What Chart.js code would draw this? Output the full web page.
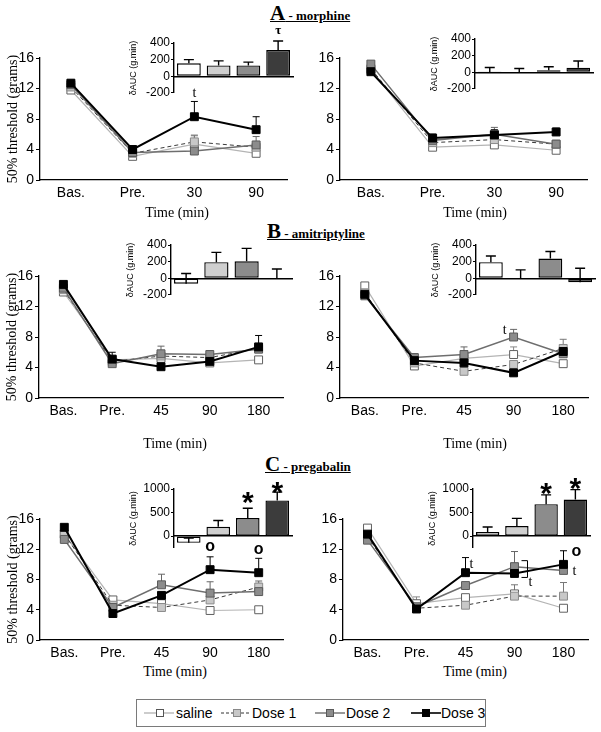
<!DOCTYPE html>
<html>
<head>
<meta charset="utf-8">
<script src="https://cdn.jsdelivr.net/npm/chart.js@4.4.1/dist/chart.umd.min.js"></script>
<style>
  body { margin:0; width:601px; height:732px; background:#fff; position:relative; overflow:hidden; }
  canvas { position:absolute; }
  .panel { position:absolute; font-family:"Liberation Serif",serif; font-weight:bold; text-decoration:underline; white-space:nowrap; line-height:20px; }
  .panel .big { font-size:21px; }
  .panel .small { font-size:13px; }
  .xt { position:absolute; font-family:"Liberation Serif",serif; font-size:14px; line-height:16px; transform:translateX(-50%); white-space:nowrap; }
  #legendBox { position:absolute; left:136px; top:699px; width:348px; height:26px; border:1.5px solid #7a7a7a; }
  .lg { position:absolute; font-family:"Liberation Sans",Arial,sans-serif; font-size:14px; line-height:16px; top:705px; white-space:nowrap; }
  .lgs { position:absolute; top:708px; }
</style>
</head>
<body>
<div class="panel" style="left:270px;top:3px"><span class="big">A</span><span class="small"> - morphine</span></div>
<div class="panel" style="left:267px;top:221px"><span class="big">B</span><span class="small"> - amitriptyline</span></div>
<div class="panel" style="left:265px;top:454px"><span class="big">C</span><span class="small"> - pregabalin</span></div>

<canvas id="aL"></canvas><canvas id="aR"></canvas>
<canvas id="bL"></canvas><canvas id="bR"></canvas>
<canvas id="cL"></canvas><canvas id="cR"></canvas>
<canvas id="iaL"></canvas><canvas id="iaR"></canvas>
<canvas id="ibL"></canvas><canvas id="ibR"></canvas>
<canvas id="icL"></canvas><canvas id="icR"></canvas>

<div class="xt" style="left:177px;top:205px">Time (min)</div>
<div class="xt" style="left:475px;top:205px">Time (min)</div>
<div class="xt" style="left:175px;top:436px">Time (min)</div>
<div class="xt" style="left:475px;top:436px">Time (min)</div>
<div class="xt" style="left:175px;top:664px">Time (min)</div>
<div class="xt" style="left:475px;top:664px">Time (min)</div>

<div id="legendBox"></div>
<svg class="lgs" style="left:144px" width="30" height="10"><line x1="0" y1="5" x2="30" y2="5" stroke="#999" stroke-width="1"/><rect x="12.5" y="1.5" width="7" height="7" fill="#fff" stroke="#555"/></svg>
<span class="lg" style="left:176px">saline</span>
<svg class="lgs" style="left:221px" width="30" height="10"><line x1="0" y1="5" x2="30" y2="5" stroke="#333" stroke-width="1" stroke-dasharray="3,2"/><rect x="12.5" y="1.5" width="7" height="7" fill="#c8c8c8" stroke="#888"/></svg>
<span class="lg" style="left:252px">Dose 1</span>
<svg class="lgs" style="left:315px" width="30" height="10"><line x1="0" y1="5" x2="30" y2="5" stroke="#555" stroke-width="1.2"/><rect x="11.5" y="1.5" width="7" height="7" fill="#8c8c8c" stroke="#5a5a5a"/></svg>
<span class="lg" style="left:346px">Dose 2</span>
<svg class="lgs" style="left:411px" width="30" height="10"><line x1="0" y1="5" x2="30" y2="5" stroke="#000" stroke-width="1.6"/><rect x="11.5" y="1.5" width="7" height="7" fill="#000" stroke="#000"/></svg>
<span class="lg" style="left:441px">Dose 3</span>

<script>
// ---- data ----
var seriesNames = ['saline', 'Dose 1', 'Dose 2', 'Dose 3'];
var timesA = ['Bas.', 'Pre.', '30', '90'];
var timesBC = ['Bas.', 'Pre.', '45', '90', '180'];

// A - morphine (left / right), 50% threshold in grams
var aLeftSaline = [11.8, 3.1, 4.7, 3.5];
var aLeftDose1  = [12.2, 3.5, 5.0, 4.3];
var aLeftDose2  = [12.5, 3.6, 3.8, 4.6];
var aLeftDose3  = [12.7, 4.0, 8.3, 6.6];
var aLeftErr = [[0.3, 0, 1.2, 0], [0, 0, 0.8, 0], [0, 0, 0, 1.1], [0.4, 0, 2.0, 1.7]];

var aRightSaline = [14.5, 4.3, 4.6, 3.9];
var aRightDose1  = [14.6, 4.9, 5.3, 4.7];
var aRightDose2  = [15.2, 5.2, 6.0, 4.7];
var aRightDose3  = [14.2, 5.5, 5.9, 6.3];
var aRightErr = [[0, 0, 0, 0], [0, 0, 0.4, 0.5], [0, 0.8, 0.9, 0.4], [0, 0.5, 0.7, 0.5]];

// B - amitriptyline
var bLeftSaline = [13.9, 5.0, 5.2, 4.6, 5.0];
var bLeftDose1  = [14.2, 4.8, 5.5, 5.3, 6.5];
var bLeftDose2  = [14.4, 4.5, 5.8, 5.7, 6.4];
var bLeftDose3  = [14.9, 5.1, 4.1, 4.8, 6.7];
var bLeftErr = [[0, 0, 0, 0, 0], [0, 0, 0, 0.4, 0], [0, 0, 1.0, 0.5, 0], [0, 0.9, 0, 0, 1.5]];

var bRightSaline = [14.7, 4.2, 5.2, 5.7, 4.5];
var bRightDose1  = [13.8, 4.6, 3.5, 4.4, 6.5];
var bRightDose2  = [13.4, 5.3, 5.7, 8.0, 5.8];
var bRightDose3  = [13.6, 4.9, 4.6, 3.3, 6.1];
var bRightErr = [[0, 0, 0, 1.0, 0], [0, 0, 0, 0, 1.2], [0, 0.5, 1.0, 1.0, 0], [0, 0, 0, 0, 0.4]];

// C - pregabalin
var cLeftSaline = [14.0, 5.3, 4.8, 3.9, 4.0];
var cLeftDose1  = [14.0, 4.6, 4.3, 5.3, 7.0];
var cLeftDose2  = [13.3, 4.3, 7.3, 6.2, 6.4];
var cLeftDose3  = [14.9, 3.5, 5.9, 9.3, 8.9];
var cLeftErr = [[0, 0.4, 0, 0, 0], [0, 0, 0, 1.3, 0.5], [0, 0, 1.4, 1.5, 1.4], [0.3, 0, 0, 1.7, 1.9]];

var cRightSaline = [14.8, 4.8, 5.6, 6.1, 4.2];
var cRightDose1  = [13.7, 4.2, 4.6, 5.8, 5.8];
var cRightDose2  = [13.2, 4.4, 7.2, 9.7, 9.2];
var cRightDose3  = [14.0, 4.1, 8.9, 8.8, 10.0];
var cRightErr = [[0, 0.9, 0, 0, 0], [0, 0, 0, 1.5, 1.8], [0, 0, 0, 2.0, 0], [0, 0, 2.0, 0, 1.8]];

// insets: delta AUC (g.min)
var aLeftAuc = [155, 130, 130, 315];   var aLeftAucErr = [45, 55, 40, 110];
var aRightAuc = [2, -5, 25, 55];       var aRightAucErr = [55, 50, 40, 80];
var bLeftAuc = [-67, 193, 204, 0];     var bLeftAucErr = [123, 118, 155, 111];
var bRightAuc = [193, 0, 237, -48];    var bRightAucErr = [74, 100, 85, 167];
var cLeftAuc = [-145, 197, 382, 757];  var cLeftAucErr = [100, 132, 210, 177];
var cRightAuc = [86, 211, 678, 776];   var cRightAucErr = [105, 164, 197, 211];

// ---- styles ----
var lineStyles = [
  { borderColor: '#b4b4b4', borderWidth: 1.2, pointBackgroundColor: '#fff', pointBorderColor: '#606060' },
  { borderColor: '#3a3a3a', borderWidth: 1, borderDash: [4, 3], pointBackgroundColor: '#c8c8c8', pointBorderColor: '#8a8a8a' },
  { borderColor: '#6e6e6e', borderWidth: 1.5, pointBackgroundColor: '#8c8c8c', pointBorderColor: '#5a5a5a' },
  { borderColor: '#000', borderWidth: 2, pointBackgroundColor: '#000', pointBorderColor: '#000' }
];
var errColors = ['#888', '#777', '#666', '#000'];
var barColors = ['#ffffff', '#cfcfcf', '#8c8c8c', '#3c3c3c'];
var serif = '"Liberation Serif", serif';
var sans = '"Liberation Sans", Arial, sans-serif';

Chart.defaults.font.family = sans;
Chart.defaults.color = '#000';
Chart.defaults.animation = false;

// error bars (upper only) and small significance marks
var marks = {
  id: 'marks',
  drawErr: function (chart, o) {
    var ctx = chart.ctx, ys = chart.scales.y;
    chart.data.datasets.forEach(function (ds, di) {
      var err = o.errs[di];
      if (!err) return;
      chart.getDatasetMeta(di).data.forEach(function (el, i) {
        if (!err[i]) return;
        var y0 = ys.getPixelForValue(ds.data[i]), y1 = ys.getPixelForValue(ds.data[i] + err[i]);
        ctx.save();
        ctx.strokeStyle = o.colors[di];
        ctx.lineWidth = o.width;
        ctx.beginPath();
        ctx.moveTo(el.x, y0); ctx.lineTo(el.x, y1);
        ctx.moveTo(el.x - o.cap, y1); ctx.lineTo(el.x + o.cap, y1);
        ctx.stroke();
        ctx.restore();
      });
    });
  },
  beforeDatasetsDraw: function (chart, args, o) { if (!o.over) this.drawErr(chart, o); },
  afterDatasetsDraw: function (chart, args, o) {
    if (o.over) this.drawErr(chart, o);
    var ctx = chart.ctx, ys = chart.scales.y;
    (o.notes || []).forEach(function (n) {
      var ds = chart.data.datasets[n.ds];
      var el = chart.getDatasetMeta(n.ds).data[n.i];
      var e = (o.errs[n.ds] && n.useErr !== false) ? o.errs[n.ds][n.i] : 0;
      var y = ys.getPixelForValue(ds.data[n.i] + e);
      ctx.save();
      ctx.fillStyle = '#000';
      ctx.strokeStyle = '#000';
      if (n.bracket) {
        var yb = ys.getPixelForValue(chart.data.datasets[n.to].data[n.i]);
        var ya = ys.getPixelForValue(ds.data[n.i]);
        var x0 = el.x + n.dx, x1 = x0 + 6;
        ctx.lineWidth = 1;
        ctx.beginPath();
        ctx.moveTo(x0, ya - 6); ctx.lineTo(x1, ya - 6); ctx.lineTo(x1, yb + 4); ctx.lineTo(x0, yb + 4);
        ctx.stroke();
        ctx.font = '14px ' + serif;
        ctx.textAlign = 'center'; ctx.textBaseline = 'middle';
        ctx.fillText('t', x1 + 3, yb + 9);
      } else {
        ctx.font = n.font;
        ctx.textAlign = 'center'; ctx.textBaseline = 'middle';
        ctx.fillText(n.text, el.x + (n.dx || 0), y + (n.dy || 0));
      }
      ctx.restore();
    });
  }
};

function place(id, x, y, w, h) {
  var c = document.getElementById(id);
  c.width = w; c.height = h;
  c.style.left = x + 'px'; c.style.top = y + 'px';
  return c;
}

function lineChart(id, box, labels, series, errs, notes, showTitle) {
  var padL = 42, padT = 12, padR = 8, xh = 24;
  var cv = place(id, box[0] - padL, box[1] - padT, box[2] - box[0] + padL + padR, box[3] - box[1] + padT + xh);
  new Chart(cv, {
    type: 'line',
    data: {
      labels: labels,
      datasets: series.map(function (d, k) {
        return Object.assign({
          label: seriesNames[k], data: d, order: 3 - k, pointStyle: 'rect',
          pointRadius: 5.6, pointBorderWidth: 1, tension: 0, clip: false, fill: false
        }, lineStyles[k]);
      })
    },
    options: {
      responsive: false,
      animation: false,
      layout: { padding: { top: padT, right: padR, left: 0, bottom: 0 }, autoPadding: false },
      plugins: {
        legend: { display: false }, tooltip: { enabled: false },
        marks: { errs: errs, notes: notes, over: false, cap: 3.5, colors: errColors, width: 1 }
      },
      scales: {
        x: {
          offset: true,
          grid: { display: false, drawTicks: false },
          border: { color: '#000', width: 1.3 },
          ticks: { font: { size: 14 }, padding: 5, color: '#000' },
          afterFit: function (s) { s.height = xh; }
        },
        y: {
          min: 0, max: 16,
          ticks: { stepSize: 4, font: { size: 14 }, padding: 2, color: '#000' },
          grid: { drawOnChartArea: false, tickLength: 4, color: '#000' },
          border: { color: '#000', width: 1.3 },
          title: { display: showTitle, text: '50% threshold (grams)', font: { family: serif, size: 14 }, padding: { top: 7, bottom: 0 }, color: '#000' },
          afterFit: function (s) { s.width = padL; }
        }
      }
    },
    plugins: [marks]
  });
}

function barChart(id, box, vals, errs, yMin, yMax, step, notes) {
  var padL = 46, padT = 24, padR = 4, padB = 4;
  var cv = place(id, box[0] - padL, box[1] - padT, box[2] - box[0] + padL + padR, box[3] - box[1] + padT + padB);
  new Chart(cv, {
    type: 'bar',
    data: {
      labels: seriesNames,
      datasets: [{
        data: vals, backgroundColor: barColors, borderColor: '#000', borderWidth: 1.4,
        borderSkipped: false, barPercentage: 0.8, categoryPercentage: 1
      }]
    },
    options: {
      responsive: false,
      animation: false,
      layout: { padding: { top: padT, right: padR, left: 0, bottom: padB }, autoPadding: false },
      plugins: {
        legend: { display: false }, tooltip: { enabled: false },
        marks: { errs: [errs], notes: notes, over: true, cap: 5, colors: ['#000'], width: 1.4 }
      },
      scales: {
        x: {
          position: { y: 0 },
          offset: true,
          ticks: { display: false },
          grid: { display: false, drawTicks: false },
          border: { color: '#000', width: 1.4 },
          afterFit: function (s) { s.height = 0; }
        },
        y: {
          min: yMin, max: yMax,
          ticks: { font: { size: 12 }, padding: 1, color: '#000', callback: function (v) { return String(v); } },
          grid: { drawOnChartArea: false, tickLength: 3, color: '#000' },
          border: { color: '#000', width: 1.4 },
          title: { display: true, text: 'δAUC (g.min)', font: { size: 9 }, padding: { top: 0, bottom: 0 }, color: '#000' },
          afterBuildTicks: function (s) {
            var t = [];
            for (var v = Math.ceil(yMin / step) * step; v <= yMax; v += step) t.push({ value: v });
            s.ticks = t;
          },
          afterFit: function (s) { s.width = padL; }
        }
      }
    },
    plugins: [marks]
  });
}

var tFont = '14px ' + serif;
var oFont = 'bold 16px ' + sans;
var starFont = 'bold 30px ' + sans;

lineChart('aL', [40, 58, 287, 180], timesA, [aLeftSaline, aLeftDose1, aLeftDose2, aLeftDose3], aLeftErr,
  [{ ds: 3, i: 2, text: 't', font: tFont, dy: -8 }], true);
lineChart('aR', [340, 58, 587, 180], timesA, [aRightSaline, aRightDose1, aRightDose2, aRightDose3], aRightErr, [], false);
lineChart('bL', [39, 276, 283, 398], timesBC, [bLeftSaline, bLeftDose1, bLeftDose2, bLeftDose3], bLeftErr, [], true);
lineChart('bR', [340, 276, 588, 398], timesBC, [bRightSaline, bRightDose1, bRightDose2, bRightDose3], bRightErr,
  [{ ds: 2, i: 3, text: 't', font: tFont, dx: -9, dy: 1 }], false);
lineChart('cL', [40, 519, 283, 640], timesBC, [cLeftSaline, cLeftDose1, cLeftDose2, cLeftDose3], cLeftErr,
  [{ ds: 3, i: 3, text: 'o', font: oFont, dy: -10 }, { ds: 3, i: 4, text: 'o', font: oFont, dy: -9 }], true);
lineChart('cR', [343, 519, 588, 640], timesBC, [cRightSaline, cRightDose1, cRightDose2, cRightDose3], cRightErr,
  [{ ds: 3, i: 2, text: 't', font: tFont, dx: 6, dy: 7 },
   { ds: 2, i: 3, bracket: true, to: 3, dx: 7 },
   { ds: 2, i: 4, text: 't', font: tFont, dx: 11, dy: 1, useErr: false },
   { ds: 3, i: 4, text: 'o', font: oFont, dx: 13, dy: 1 }], false);

barChart('iaL', [174, 43, 293, 97], aLeftAuc, aLeftAucErr, -200, 400, 200,
  [{ ds: 0, i: 3, text: 'τ', font: 'bold 13px ' + serif, dy: -10 }]);
barChart('iaR', [475, 39, 593, 93], aRightAuc, aRightAucErr, -200, 400, 200, []);
barChart('ibL', [171, 245, 292, 299], bLeftAuc, bLeftAucErr, -200, 400, 200, []);
barChart('ibR', [476, 245, 595, 299], bRightAuc, bRightAucErr, -200, 400, 200, []);
barChart('icL', [174, 489, 292, 552], cLeftAuc, cLeftAucErr, -250, 1000, 500,
  [{ ds: 0, i: 2, text: '*', font: starFont, dy: -4 }, { ds: 0, i: 3, text: '*', font: starFont, dy: 2 }]);
barChart('icR', [473, 489, 590, 552], cRightAuc, cRightAucErr, -250, 1000, 500,
  [{ ds: 0, i: 2, text: '*', font: starFont, dy: 0 }, { ds: 0, i: 3, text: '*', font: starFont, dy: 0 }]);
</script>
</body>
</html>
